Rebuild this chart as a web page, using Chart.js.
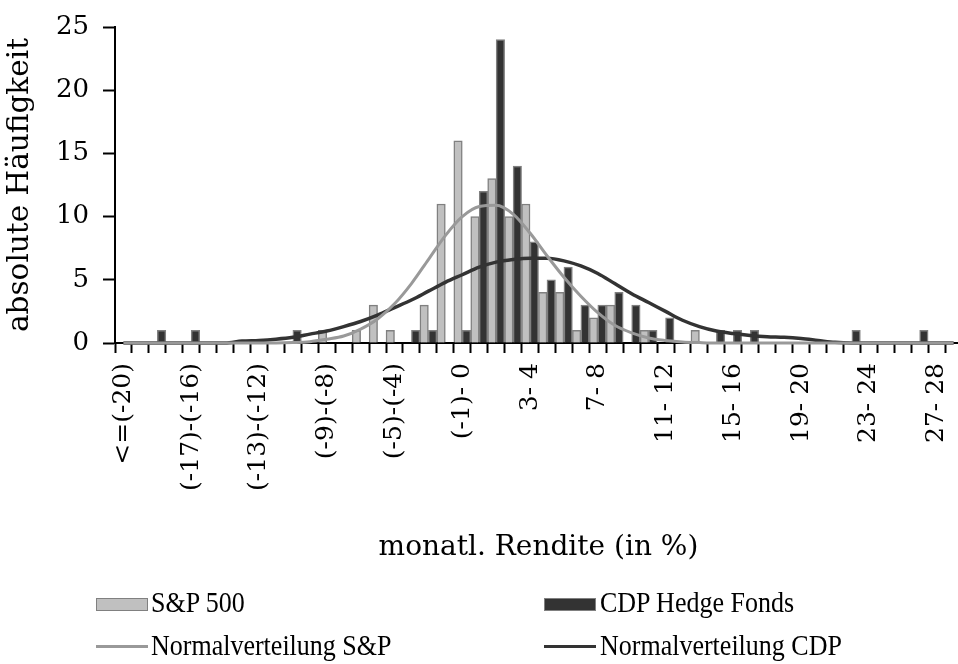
<!DOCTYPE html>
<html>
<head>
<meta charset="utf-8">
<script src="https://cdn.jsdelivr.net/npm/chart.js@4.4.1/dist/chart.umd.min.js"></script>
<style>
    html, body { margin: 0; padding: 0; background: #fff; overflow: hidden; }
    #wrap { position: relative; width: 962px; height: 664px; }
    .leg { position: absolute; font-family: "Liberation Serif", serif; font-size: 26px; color: #000; white-space: nowrap;
           transform: scaleY(1.15); transform-origin: left center; }
    .box { position: absolute; box-sizing: border-box; width: 52px; height: 13px; border: 1.5px solid #808080; }
    .ln { position: absolute; width: 52px; height: 3px; }
</style>
</head>
<body>
<div id="wrap">
    <canvas id="histChart" width="962" height="664"></canvas>

    <div class="box" style="left:96px; top:598px; background:#c0c0c0;"></div>
    <div class="leg" style="left:151px; top:588px;">S&amp;P 500</div>
    <div class="box" style="left:544px; top:598px; background:#333333;"></div>
    <div class="leg" style="left:600px; top:588px;">CDP Hedge Fonds</div>

    <div class="ln" style="left:96px; top:645px; background:#999999;"></div>
    <div class="leg" style="left:151px; top:631px;">Normalverteilung S&amp;P</div>
    <div class="ln" style="left:544px; top:645px; background:#333333;"></div>
    <div class="leg" style="left:600px; top:631px;">Normalverteilung CDP</div>
</div>

<script>
// Renditeklassen (monatlich, in %)
const categories = [
    "<=(-20)", "(-20)-(-19)", "(-19)-(-18)", "(-18)-(-17)", "(-17)-(-16)",
    "(-16)-(-15)", "(-15)-(-14)", "(-14)-(-13)", "(-13)-(-12)", "(-12)-(-11)",
    "(-11)-(-10)", "(-10)-(-9)", "(-9)-(-8)", "(-8)-(-7)", "(-7)-(-6)",
    "(-6)-(-5)", "(-5)-(-4)", "(-4)-(-3)", "(-3)-(-2)", "(-2)-(-1)",
    "(-1)- 0", "0- 1", "1- 2", "2- 3", "3- 4",
    "4- 5", "5- 6", "6- 7", "7- 8", "8- 9",
    "9- 10", "10- 11", "11- 12", "12- 13", "13- 14",
    "14- 15", "15- 16", "16- 17", "17- 18", "18- 19",
    "19- 20", "20- 21", "21- 22", "22- 23", "23- 24",
    "24- 25", "25- 26", "26- 27", "27- 28", "28- 29"
];

const spBars = [
    0, 0, 0, 0, 0,   0, 0, 0, 0, 0,
    0, 0, 1, 0, 1,   3, 1, 0, 3, 11,
    16, 10, 13, 10, 11,   4, 4, 1, 2, 3,
    0, 1, 0, 0, 1,   0, 0, 0, 0, 0,
    0, 0, 0, 0, 0,   0, 0, 0, 0, 0
];

const cdpBars = [
    0, 0, 1, 0, 1,   0, 0, 0, 0, 0,
    1, 0, 0, 0, 0,   0, 0, 1, 1, 0,
    1, 12, 24, 14, 8,   5, 6, 3, 3, 4,
    3, 1, 2, 0, 0,   1, 1, 1, 0, 0,
    0, 0, 0, 1, 0,   0, 0, 1, 0, 0
];

const spNormal = [
    0, 0, 0, 0, 0,   0, 0, 0, 0, 0,
    0.03, 0.1, 0.3, 0.55, 1.1,   1.9, 3.1, 4.7, 6.6, 8.5,
    10.0, 10.8, 10.9, 10.2, 8.7,   6.9, 5.2, 3.7, 2.4, 1.4,
    0.8, 0.4, 0.2, 0.08, 0.03,   0, 0, 0, 0, 0,
    0, 0, 0, 0, 0,   0, 0, 0, 0, 0
];

const cdpNormal = [
    0, 0, 0, 0, 0,   0, 0, 0.15, 0.2, 0.3,
    0.45, 0.7, 0.95, 1.3, 1.7,   2.2, 2.8, 3.4, 4.1, 4.8,
    5.4, 6.0, 6.4, 6.6, 6.7,   6.7, 6.5, 6.1, 5.5, 4.7,
    3.9, 3.2, 2.5, 1.8, 1.3,   0.95, 0.75, 0.6, 0.5, 0.45,
    0.35, 0.2, 0.05, 0, 0,   0, 0, 0, 0, 0
];

const yTicks = [0, 5, 10, 15, 20, 25];

const serif = "'DejaVu Serif', serif";

let histChart = new Chart(document.getElementById("histChart"), {
    type: 'bar',
    data: {
        labels: categories,
        datasets: [
            { type: 'line', label: 'Normalverteilung S&P', data: spNormal, borderColor: '#999999', borderWidth: 3,
              pointRadius: 0, cubicInterpolationMode: 'monotone', fill: false, order: 0, clip: 6 },
            { type: 'line', label: 'Normalverteilung CDP', data: cdpNormal, borderColor: '#333333', borderWidth: 3.5,
              pointRadius: 0, cubicInterpolationMode: 'monotone', fill: false, order: 0, clip: 6 },
            { label: 'S&P 500', data: spBars, backgroundColor: '#c0c0c0', borderColor: '#808080', borderWidth: 1.5,
              categoryPercentage: 1.0, barPercentage: 1.0, order: 1 },
            { label: 'CDP Hedge Fonds', data: cdpBars, backgroundColor: '#333333', borderColor: '#808080', borderWidth: 1.5,
              categoryPercentage: 1.0, barPercentage: 1.0, order: 1 }
        ]
    },
    options: {
        responsive: false,
        animation: false,
        layout: { padding: { top: 27, right: 0, bottom: 95, left: 0 } },
        plugins: {
            legend: { display: false },
            tooltip: { enabled: false }
        },
        scales: {
            x: {
                offset: true,
                grid: { offset: true, drawOnChartArea: false, drawTicks: true, tickLength: 10, tickWidth: 2, tickColor: '#000' },
                border: { display: true, color: '#000', width: 2 },
                ticks: {
                    autoSkip: false,
                    maxRotation: 90,
                    minRotation: 90,
                    padding: 10,
                    color: '#000',
                    font: { family: serif, size: 25 },
                    callback: function (value, index) {
                        return index % 4 === 0 ? categories[index] : '';
                    }
                },
                title: {
                    display: true,
                    text: 'monatl. Rendite (in %)',
                    color: '#000',
                    font: { family: serif, size: 28 },
                    padding: { top: 4, bottom: 4 }
                },
                afterFit: function (scale) {
                    scale.height = 226;
                    scale.paddingLeft = 0;
                    scale.paddingRight = 0;
                }
            },
            y: {
                min: 0,
                max: 25,
                afterBuildTicks: function (scale) { scale.ticks = yTicks.map(v => ({ value: v })); },
                grid: { drawOnChartArea: false, drawTicks: true, tickLength: 12, tickWidth: 2, tickColor: '#000' },
                border: { display: true, color: '#000', width: 2 },
                ticks: {
                    padding: 14,
                    color: '#000',
                    font: { family: serif, size: 26 }
                },
                title: {
                    display: true,
                    text: 'absolute Häufigkeit',
                    color: '#000',
                    font: { family: serif, size: 29.5 },
                    padding: { top: 3, bottom: 0 }
                },
                afterFit: function (scale) {
                    scale.width = 115;
                    scale.paddingTop = 0;
                    scale.paddingBottom = 0;
                }
            }
        }
    }
});
</script>
</body>
</html>
